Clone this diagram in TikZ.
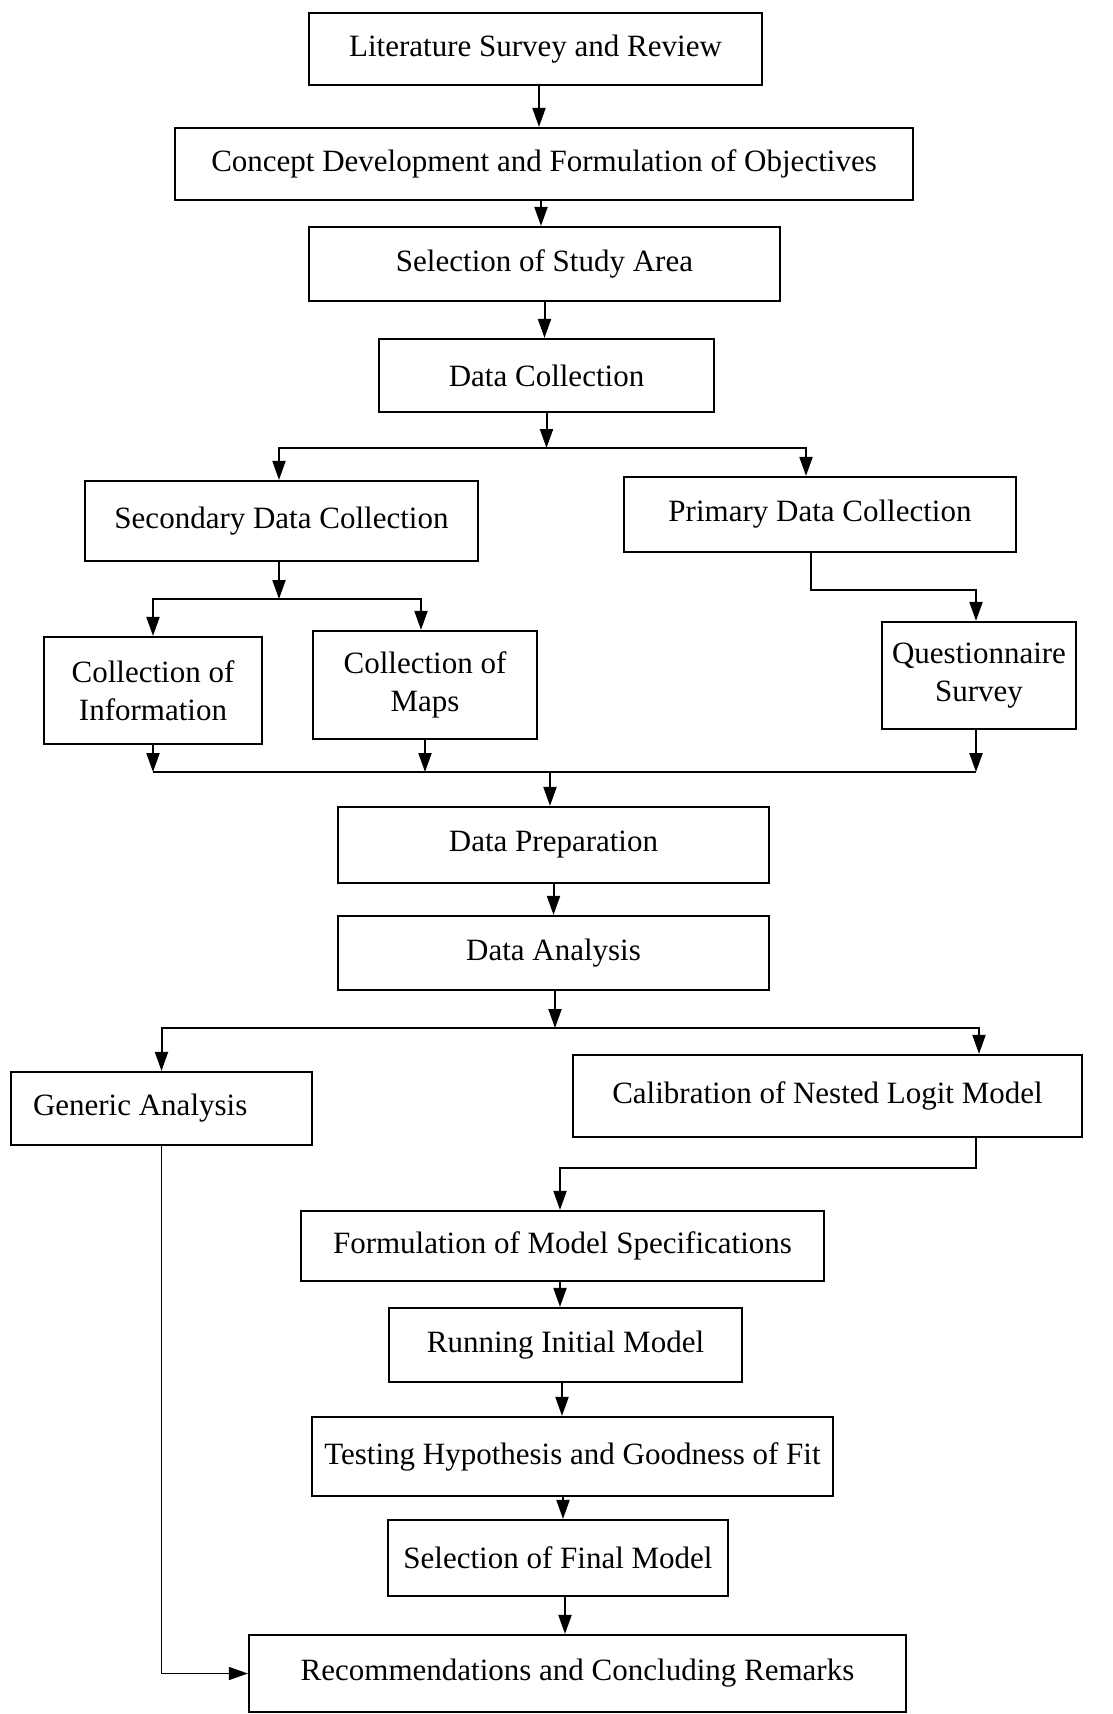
\documentclass[tikz,border=0pt]{standalone}
\usepackage{fontspec}
\setmainfont{Liberation Serif}
\usetikzlibrary{arrows.meta}
\begin{document}
\begin{tikzpicture}[x=1pt,y=-1pt,
  box/.style={draw, line width=2.2pt, align=center, inner sep=4pt,
    font=\fontsize{31}{38}\selectfont},
  line/.style={line width=2pt},
  arr/.style={line width=2pt, -{Triangle[length=19pt,width=13pt]}}]
\useasboundingbox (0,0) rectangle (1112,1714);
% boxes
\node[box, minimum width=453, minimum height=72] (lit) at (535.5,49) {Literature Survey and Review};
\node[box, minimum width=738, minimum height=72] (concept) at (544,164) {Concept Development and Formulation of Objectives};
\node[box, minimum width=471, minimum height=74] (study) at (544.5,264) {Selection of Study Area};
\node[box, minimum width=335, minimum height=73] (datacoll) at (546.5,375.5) {Data Collection};
\node[box, minimum width=393, minimum height=80] (secondary) at (281.5,521) {Secondary Data Collection};
\node[box, minimum width=392, minimum height=75] (primary) at (820,514.5) {Primary Data Collection};
\node[box, minimum width=218, minimum height=107] (info) at (153,690.5) {Collection of\\Information};
\node[box, minimum width=224, minimum height=108] (maps) at (425,685) {Collection of\\Maps};
\node[box, minimum width=194, minimum height=107] (quest) at (979,675.5) {Questionnaire\\Survey};
\node[box, minimum width=431, minimum height=76] (prep) at (553.5,845) {Data Preparation};
\node[box, minimum width=431, minimum height=74] (analysis) at (553.5,953) {Data Analysis};
\node[box, text width=257pt, inner xsep=22pt, align=flush left, minimum height=73] (generic) at (161.5,1108.5) {Generic Analysis};
\node[box, minimum width=509, minimum height=82] (calib) at (827.5,1096) {Calibration of Nested Logit Model};
\node[box, minimum width=523, minimum height=70] (formul) at (562.5,1246) {Formulation of Model Specifications};
\node[box, minimum width=353, minimum height=74] (running) at (565.5,1345) {Running Initial Model};
\node[box, minimum width=521, minimum height=79] (testing) at (572.5,1456.5) {Testing Hypothesis and Goodness of Fit};
\node[box, minimum width=340, minimum height=76] (final) at (558,1558) {Selection of Final Model};
\node[box, minimum width=657, minimum height=77] (recomm) at (577.5,1673.5) {Recommendations and Concluding Remarks};
% junction points
\coordinate (j1) at (547,448);
\coordinate (j2) at (279,599);
\coordinate (j3) at (976,590);
\coordinate (j4) at (550,772);
\coordinate (j5) at (555,1028);
\coordinate (j6) at (560,1168);
% connectors
\draw[arr] ([xshift=3.5]lit.south) -- ([xshift=3.5]lit.south |- concept.north);
\draw[arr] ([xshift=-3]concept.south) -- ([xshift=-3]concept.south |- study.north);
\draw[arr] (study.south) -- (study.south |- datacoll.north);
\draw[arr] (datacoll.south) -- (datacoll.south |- j1);
\draw[arr] (j1) -| ([xshift=-2.5]secondary.north);
\draw[arr] (j1) -| ([xshift=-14]primary.north);
\draw[arr] ([xshift=-2.5]secondary.south) -- (j2);
\draw[arr] (j2) -| (info.north);
\draw[arr] (j2) -| ([xshift=-4]maps.north);
\draw[arr] ([xshift=-9]primary.south) |- (j3) -- (j3 |- quest.north);
\draw[arr] (info.south) -- (info.south |- j4);
\draw[arr] (maps.south) -- (maps.south |- j4);
\draw[arr] ([xshift=-3]quest.south) -- ([xshift=-3]quest.south |- j4);
\draw[line] (info.south |- j4) -- ([xshift=-3]quest.south |- j4);
\draw[arr] (j4) -- (j4 |- prep.north);
\draw[arr] (prep.south) -- (prep.south |- analysis.north);
\draw[arr] ([xshift=1.5]analysis.south) -- (j5);
\draw[arr] (j5) -| (generic.north);
\draw[arr] (j5) -| ([xshift=151.5]calib.north);
\draw[arr] ([xshift=148.5]calib.south) |- (j6) -- (j6 |- formul.north);
\draw[arr] ([xshift=-2.5]formul.south) -- ([xshift=-2.5]formul.south |- running.north);
\draw[arr] ([xshift=-3.5]running.south) -- ([xshift=-3.5]running.south |- testing.north);
\draw[arr] ([xshift=-9.5]testing.south) -- ([xshift=-9.5]testing.south |- final.north);
\draw[arr] ([xshift=7]final.south) -- ([xshift=7]final.south |- recomm.north);
\draw[arr, line width=1.5pt] (generic.south) |- (recomm.west);
\end{tikzpicture}
\end{document}
